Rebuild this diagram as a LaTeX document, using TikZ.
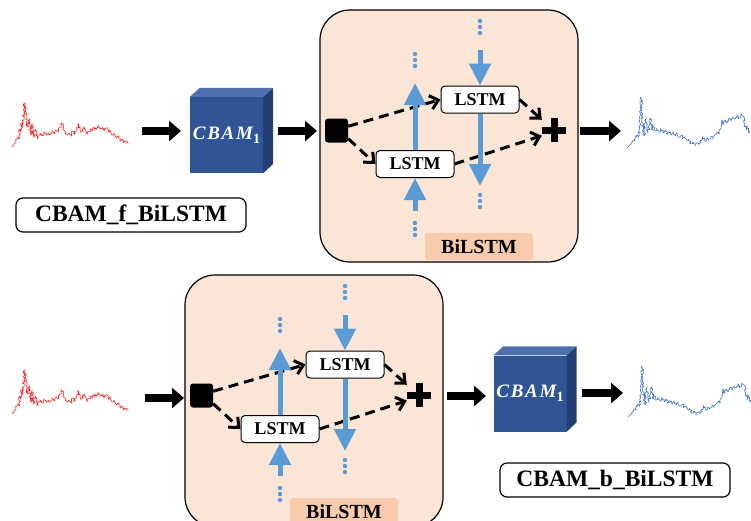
\documentclass[tikz,border=0pt]{standalone}
\usepackage{fontspec}
\setmainfont{Liberation Serif}
\usetikzlibrary{arrows.meta,decorations.pathmorphing}
\definecolor{peach}{HTML}{FBE5D6}
\definecolor{peachdark}{HTML}{F8CBAD}
\definecolor{lblue}{HTML}{5B9BD5}
\definecolor{cubefront}{HTML}{2F5597}
\definecolor{cubetop}{HTML}{4F70AE}
\definecolor{cubeside}{HTML}{243F74}
\definecolor{sigred}{HTML}{FF2020}
\definecolor{sigblue}{HTML}{4472C4}
\tikzset{
 fat/.style={line width=8pt, -{Triangle[length=12pt,width=20pt]}, black},
 lstm/.style={draw, rounded corners=4pt, fill=white, line width=1pt, minimum width=78pt, minimum height=27pt, inner sep=0pt, font=\fontsize{18}{18}\selectfont\bfseries},
 bigbox/.style={draw, line width=1.2pt, fill=peach, rounded corners=30pt, minimum width=258pt, minimum height=252pt},
 tagbox/.style={fill=peachdark, rounded corners=3pt, minimum width=108pt, minimum height=27pt, font=\fontsize{20}{20}\selectfont\bfseries, inner sep=0pt},
 namebox/.style={draw, line width=1.2pt, rounded corners=7pt, minimum width=230pt, minimum height=34pt, inner sep=0pt, font=\fontsize{23.5}{23.5}\selectfont\bfseries},
 dsh/.style={line width=3pt, dash pattern=on 10pt off 6pt, -{Straight Barb[length=8pt,width=14pt]}},
 blu/.style={lblue, line width=5pt, -{Triangle[length=22pt,width=21pt]}},
 splitbox/.style={fill=black, rounded corners=3pt, minimum width=23pt, minimum height=24pt, inner sep=0pt},
 plusbox/.style={minimum size=24pt, inner sep=0pt},
 cube/.style={fill=cubefront, minimum width=73pt, minimum height=76pt, inner sep=0pt, text=white, font=\fontsize{19}{19}\selectfont\bfseries\itshape},
 noisy/.style={line width=0.6pt, line join=round, decorate, decoration={random steps, segment length=1.3pt, amplitude=1.4pt}},
 bdots/.pic={\fill[lblue] (0,0) circle (2.2pt) (0,6) circle (2.2pt) (0,12) circle (2.2pt);},
 redsig/.pic={\pgfmathsetseed{7}\draw[sigred, noisy] plot coordinates {(0,0) (2,-3) (4,-5) (6,-10) (7,-8) (8,-18) (9,-15) (10,-25) (11,-20) (12,-35) (13,-44) (14,-38) (15,-30) (16,-20) (17,-28) (18,-22) (19,-12) (20,-24) (21,-15) (22,-10) (23,-18) (24,-13) (25,-8) (26,-12) (28,-14) (30,-11) (32,-15) (34,-12) (36,-14) (38,-12) (40,-16) (42,-13) (44,-17) (46,-15) (48,-20) (50,-24) (51,-18) (53,-16) (55,-12) (57,-14) (59,-11) (61,-16) (63,-13) (65,-18) (67,-23) (68,-17) (70,-15) (72,-20) (74,-16) (76,-13) (78,-18) (80,-15) (82,-20) (84,-17) (86,-22) (88,-18) (90,-20) (92,-16) (94,-19) (96,-15) (98,-17) (100,-12) (102,-14) (104,-9) (106,-11) (108,-6) (110,-8) (112,-4) (114,-6) (116,-3)};},
 bluesig/.pic={\pgfmathsetseed{11}\draw[sigblue, noisy] plot coordinates {(0,0) (2,-2) (4,-5) (6,-8) (8,-7) (10,-13) (11,-10) (12,-18) (13,-25) (14,-51) (15,-40) (16,-22) (17,-12) (18,-25) (19,-30) (20,-18) (21,-15) (22,-20) (23,-30) (24,-25) (25,-18) (26,-22) (28,-17) (30,-20) (32,-16) (34,-19) (36,-15) (38,-18) (40,-14) (42,-17) (44,-13) (46,-16) (48,-12) (50,-15) (52,-11) (54,-13) (56,-9) (58,-11) (60,-7) (62,-9) (64,-4) (66,-6) (68,-2) (70,-5) (72,-3) (74,-8) (76,-11) (78,-7) (80,-10) (82,-8) (84,-12) (86,-9) (88,-13) (90,-16) (92,-14) (94,-22) (95,-28) (96,-24) (98,-28) (100,-25) (102,-30) (104,-27) (106,-31) (108,-29) (110,-33) (112,-30) (114,-34) (116,-32) (118,-24) (119,-18) (120,-22) (122,-15)};},
}
\newcommand\bilstmblock{%
  \node[bigbox] (bx) at (449,136) {};
  \node[tagbox] (tg) at (479,246.5) {BiLSTM};
  \node[splitbox] (sp) at (336.5,130.5) {};
  \node[lstm] (hi) at (480,99.5) {LSTM};
  \node[lstm] (lo) at (415,164) {LSTM};
  \node[plusbox] (pl) at (554,130) {};
  \draw[line width=7pt] (pl.north) -- (pl.south) (pl.west) -- (pl.east);
  \coordinate (uptip) at (415,83);
  \coordinate (dnsrc) at (480,50);
  \coordinate (dntip) at (480,186);
  \coordinate (insrc) at (415,211);
  \draw[dsh] (sp.20) -- (hi.west);
  \draw[dsh] (sp.-35) -- (lo.west);
  \draw[dsh] (lo.east) -- (pl.205);
  \draw[dsh] (hi.east) -- (pl.140);
  \draw[blu] (lo.north) -- (uptip);
  \draw[blu] (dnsrc) -- (hi.north);
  \draw[blu] (hi.south) -- (dntip);
  \draw[blu] (insrc) -- (lo.south);
  \pic at (415,54) {bdots};
  \pic at (480,21) {bdots};
  \pic at (480,195) {bdots};
  \pic at (415,223) {bdots};
}
\newcommand\cubeat[2]{%
  \node[cube] (#1) at #2 {\addfontfeatures{LetterSpace=9}CBAM\raisebox{-4pt}{\fontsize{14}{14}\selectfont\upshape 1}};
  \fill[cubetop] (#1.north west) -- ++(10,-9) -- ++(73,0) -- (#1.north east) -- cycle;
  \fill[cubeside] (#1.north east) -- ++(10,-9) -- ++(0,76) -- (#1.south east) -- cycle;
}
\begin{document}
\begin{tikzpicture}[x=1pt,y=-1pt]
\useasboundingbox (0,0) rectangle (751,520);
\clip (0,0) rectangle (751,520);
% top row
\pic at (12,147) {redsig};
\cubeat{cubeA}{(226.5,135)}
\begin{scope}[name prefix=t-]
\bilstmblock
\end{scope}
\pic at (627,148) {bluesig};
\coordinate (a1s) at (142,131); \coordinate (a1e) at (181,131);
\coordinate (a2s) at (278,131); \coordinate (a2e) at (317,131);
\coordinate (a3s) at (580,131); \coordinate (a3e) at (621,131);
\draw[fat] (a1s) -- (a1e);
\draw[fat] (a2s) -- (a2e);
\draw[fat] (a3s) -- (a3e);
\node[namebox] (nf) at (131,215) {CBAM\_f\_BiLSTM};
% bottom row
\pic at (12,414) {redsig};
\begin{scope}[shift={(-135,265)}, name prefix=b-]
\bilstmblock
\end{scope}
\cubeat{cubeB}{(530,393.5)}
\pic at (628,417) {bluesig};
\coordinate (b1s) at (145,398); \coordinate (b1e) at (184,398);
\coordinate (b2s) at (447,396); \coordinate (b2e) at (486,396);
\coordinate (b3s) at (582,393); \coordinate (b3e) at (623,393);
\draw[fat] (b1s) -- (b1e);
\draw[fat] (b2s) -- (b2e);
\draw[fat] (b3s) -- (b3e);
\node[namebox] (nb) at (615,480) {CBAM\_b\_BiLSTM};
\end{tikzpicture}
\end{document}
